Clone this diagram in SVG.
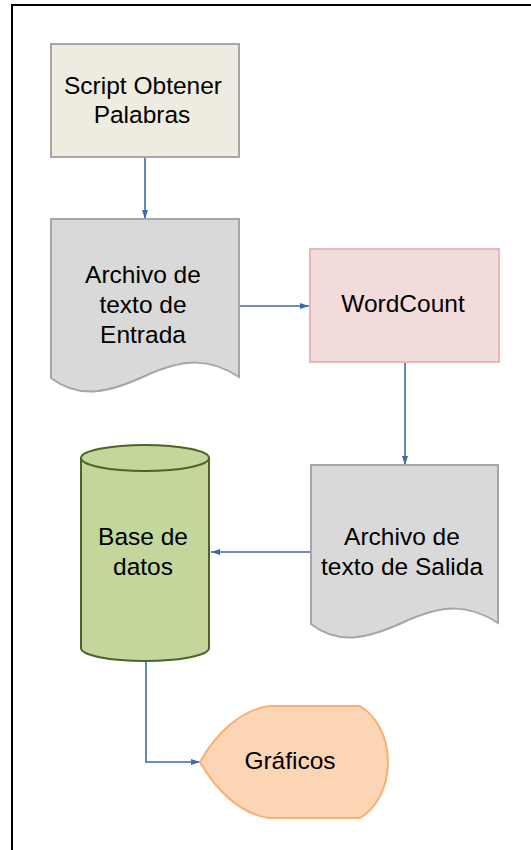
<svg xmlns="http://www.w3.org/2000/svg" width="531" height="850" viewBox="0 0 531 850">
<defs>
<marker id="arr" markerUnits="userSpaceOnUse" markerWidth="10" markerHeight="8" refX="9" refY="4" orient="auto">
<path d="M0,1 L9,4 L0,7 Z" fill="#3A6BAA"/>
</marker>
<style>
text{font-family:"Liberation Sans",Arial,sans-serif;font-size:24.5px;fill:#000;text-anchor:middle}
.conn{fill:none;stroke:#3A6BAA;stroke-width:1.6;marker-end:url(#arr)}
.doc{fill:#D9D9D9;stroke:#A6A6A6;stroke-width:2}
</style>
</defs>
<rect width="531" height="850" fill="#fff"/>
<path d="M12,850 V5 H531" fill="none" stroke="#000" stroke-width="2"/>
<g id="connectors">
<path class="conn" d="M145,157 V219"/>
<path class="conn" d="M239,306 H309"/>
<path class="conn" d="M405,362 V465"/>
<path class="conn" d="M311,552 H211"/>
<path class="conn" d="M146,661 V762 H200"/>
</g>
<g id="script">
<rect x="51" y="44" width="188" height="113" fill="#EEECE1" stroke="#A6A6A6" stroke-width="2"/>
<text x="143" y="94">Script Obtener</text>
<text x="142" y="123">Palabras</text>
</g>
<g id="entrada">
<path class="doc" d="M51,219 H239 V377 C210,358 185,358 145,376 C110,392 80,400 51,378 Z"/>
<text x="143" y="283">Archivo de</text>
<text x="143" y="313">texto de</text>
<text x="143" y="343">Entrada</text>
</g>
<g id="wordcount">
<rect x="310" y="249" width="189" height="113" fill="#F2DCDB" stroke="#E6B9B8" stroke-width="2"/>
<text x="403" y="312">WordCount</text>
</g>
<g id="salida">
<path class="doc" d="M311,465 H498 V623 C469,604 444,604 404,622 C369,638 339,646 311,624 Z"/>
<text x="402" y="545">Archivo de</text>
<text x="402" y="575">texto de Salida</text>
</g>
<g id="basedatos">
<path d="M81,458 V648 A64,13 0 0 0 209,648 V458 A64,13 0 0 0 81,458 Z" fill="#C3D69B" stroke="#4F6228" stroke-width="2"/>
<path d="M81,458 A64,13 0 0 0 209,458" fill="none" stroke="#4F6228" stroke-width="2"/>
<text x="143" y="545">Base de</text>
<text x="143" y="575">datos</text>
</g>
<g id="graficos">
<path d="M200,762 C215,735 240,710 269,706 H360 C375,715 388,735 388,762 C388,789 375,809 360,818 H269 C240,814 215,789 200,762 Z" fill="#FCD5B5" stroke="#F9B074" stroke-width="2"/>
<text x="290" y="769">Gráficos</text>
</g>
</svg>
